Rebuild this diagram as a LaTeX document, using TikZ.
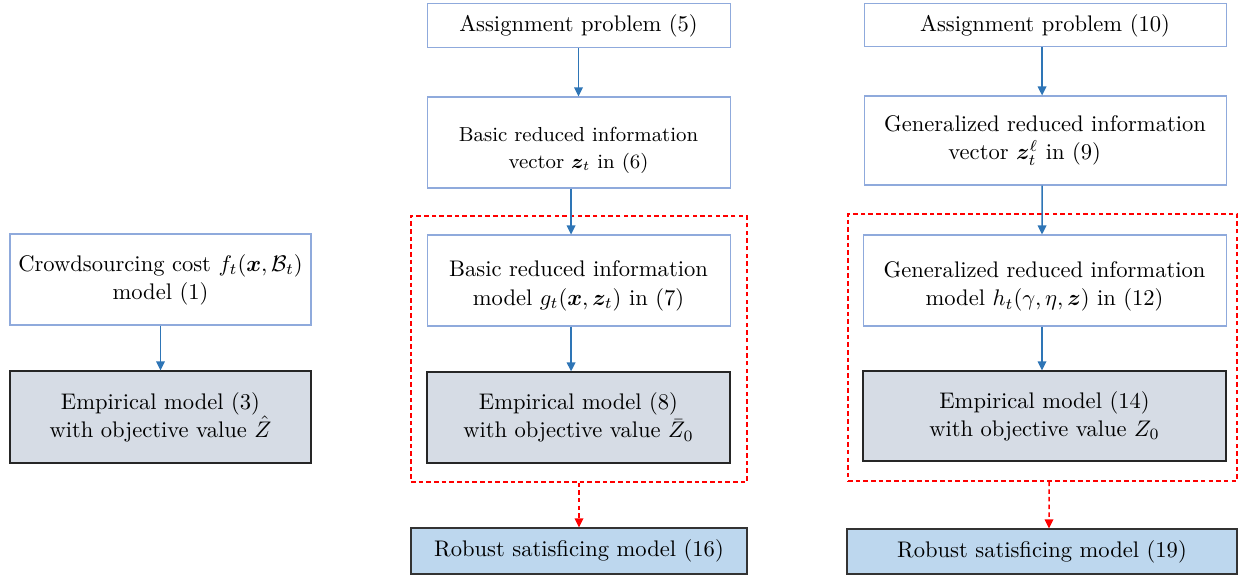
\documentclass[tikz,border=0pt]{standalone}
\usepackage{amsmath,amssymb,bm}
\usetikzlibrary{arrows.meta}
\definecolor{lb}{HTML}{8FAADC}
\definecolor{ab}{HTML}{2E75B6}
\definecolor{gf}{HTML}{D6DCE5}
\definecolor{rf}{HTML}{BDD7EE}
\newcommand{\pu}{0.4433pt}
\newcommand{\lowertext}[2]{\raisebox{-#1}[\height][\depth]{\begin{tabular}{@{}c@{}}#2\end{tabular}}}
\begin{document}
\begin{tikzpicture}[x=0.4433pt,y=-0.4433pt,
  sz/.style 2 args={minimum width=#1*\pu, minimum height=#2*\pu},
  base/.style={rectangle, inner sep=0pt, align=center, font=\fontsize{10}{12.5}\selectfont},
  wbox/.style={base, draw=lb, line width=0.45pt, fill=white},
  gbox/.style={base, draw=black!85, line width=0.5pt, fill=gf},
  rbox/.style={base, draw=black!80, line width=0.5pt, fill=rf},
  grp/.style={base, draw=red, line width=0.55pt, dash pattern=on 2pt off 1.4pt},
  arr/.style={draw=ab, line width=0.65pt, -{Triangle[length=4pt,width=3.8pt]}},
  rarr/.style={draw=red, line width=0.65pt, dash pattern=on 2pt off 1.4pt, -{Triangle[length=4pt,width=3.8pt]}}
]
\useasboundingbox (0,0) rectangle (1238,575);
% groups
\node[grp, sz={336}{266}] (g1) at (579,349) {};
\node[grp, sz={389}{267}] (g2) at (1042.5,347.5) {};
% left column
\node[wbox, sz={301}{91}] (crowd) at (160.5,279.5) {Crowdsourcing cost $f_t(\bm{x},\mathcal{B}_t)$\\model (1)};
\node[gbox, sz={301}{92}] (e3) at (160.5,417) {Empirical model (3)\\with objective value $\hat{Z}$};
% middle column
\node[wbox, sz={303}{44}] (a5) at (578.5,26) {Assignment problem (5)};
\node[wbox, sz={303}{91}, font=\fontsize{9}{12}\selectfont] (v6) at (578.5,142.5) {\lowertext{3pt}{Basic reduced information\\vector $\bm{z}_t$ in (6)}};
\node[wbox, sz={303}{91}] (m7) at (578.5,280.5) {\lowertext{2.2pt}{Basic reduced information\\model $g_t(\bm{x},\bm{z}_t)$ in (7)}};
\node[gbox, sz={303}{91}] (e8) at (578.5,417.5) {Empirical model (8)\\with objective value $\bar{Z}_0$};
\node[rbox, sz={336}{46}] (r16) at (579,551) {Robust satisficing model (16)};
% right column
\node[wbox, sz={362}{43}] (a10) at (1045,25.5) {Assignment problem (10)};
\node[wbox, sz={362}{89}] (v9) at (1045,140.5) {Generalized reduced information\\vector $\bm{z}_t^{\ell}$ in (9)\rule{18pt}{0pt}};
\node[wbox, sz={363}{91}] (m12) at (1044.5,280.5) {\lowertext{2.5pt}{Generalized reduced information\\model $h_t(\gamma,\eta,\bm{z})$ in (12)}};
\node[gbox, sz={363}{90}] (e14) at (1044.5,416) {Empirical model (14)\\with objective value $Z_0$};
\node[rbox, sz={390}{45}] (r19) at (1042,551.5) {Robust satisficing model (19)};
% arrows
\draw[arr] (crowd.south) -- (e3.north);
\draw[arr] (a5.south) -- (v6.north);
\draw[arr] ([xshift=-3.3pt]v6.south) -- ([xshift=-3.3pt]m7.north);
\draw[arr] ([xshift=-3.3pt]m7.south) -- ([xshift=-3.3pt]e8.north);
\draw[rarr] (g1.south) -- (r16.north);
\draw[arr] ([xshift=-1.3pt]a10.south) -- ([xshift=-1.3pt]v9.north);
\draw[arr] ([xshift=-1.3pt]v9.south) -- ([xshift=-1.1pt]m12.north);
\draw[arr] ([xshift=-1.1pt]m12.south) -- ([xshift=-1.1pt]e14.north);
\draw[rarr] ([xshift=2.9pt]g2.south) -- ([xshift=3.1pt]r19.north);
\end{tikzpicture}
\end{document}
